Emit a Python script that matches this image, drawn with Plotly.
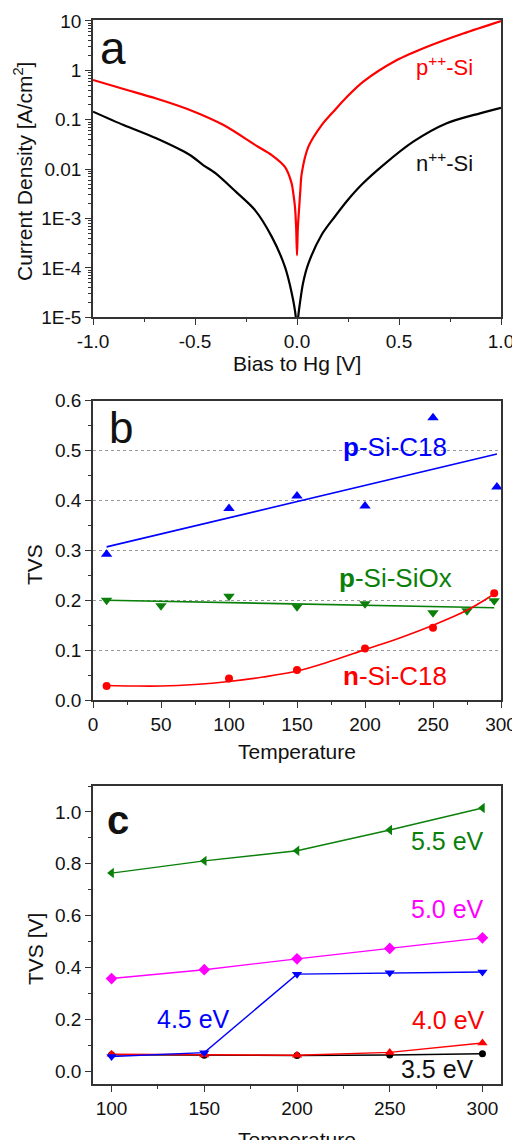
import plotly.graph_objects as go

# ---------------- data ----------------
# panel a : current density vs bias
bias_p = [-1.0, -0.85, -0.69, -0.525, -0.36, -0.2, -0.124, -0.06, -0.026, -0.018, -0.01, -0.004, 0.0,
          0.004, 0.011, 0.016, 0.023, 0.056, 0.121, 0.186, 0.244, 0.325, 0.49, 0.65, 0.815, 1.0]
j_p = [0.64, 0.42, 0.27, 0.158, 0.078, 0.030, 0.0193, 0.0112, 0.0051, 0.0032, 0.00174, 0.00063, 0.00018,
       0.00063, 0.00174, 0.0035, 0.0081, 0.0285, 0.078, 0.158, 0.288, 0.59, 1.62, 3.16, 5.6, 10.0]
bias_n = [-1.0, -0.85, -0.69, -0.525, -0.46, -0.4, -0.3, -0.206, -0.124, -0.059, -0.026, -0.006, 0.0,
          0.006, 0.014, 0.03, 0.056, 0.121, 0.186, 0.25, 0.32, 0.423, 0.57, 0.734, 0.897, 1.0]
j_n = [0.146, 0.078, 0.042, 0.0193, 0.0121, 0.0083, 0.0035, 0.00148, 0.00043, 1.05e-4, 3.1e-5, 1.02e-5, 3e-6,
       1.02e-5, 1.9e-5, 5e-5, 1.23e-4, 4.7e-4, 0.0011, 0.0024, 0.005, 0.0121, 0.036, 0.085, 0.135, 0.174]
a_xticks = [-1.0, -0.5, 0.0, 0.5, 1.0]
a_xticklabels = ["-1.0", "-0.5", "0.0", "0.5", "1.0"]
a_yticks = [10, 1, 0.1, 0.01, 1e-3, 1e-4, 1e-5]
a_yticklabels = ["10", "1", "0.1", "0.01", "1E-3", "1E-4", "1E-5"]

# panel b : TVS vs temperature
t_pc18 = [10, 100, 150, 200, 250, 297]
tvs_pc18 = [0.292, 0.384, 0.409, 0.389, 0.566, 0.427]
fit_t_pc18 = [10, 297]
fit_pc18 = [0.307, 0.493]
t_siox = [10, 50, 100, 150, 200, 250, 275, 295]
tvs_siox = [0.200, 0.189, 0.208, 0.187, 0.193, 0.175, 0.179, 0.199]
fit_t_siox = [10, 295]
fit_siox = [0.200, 0.185]
t_nc18 = [10, 100, 150, 200, 250, 295]
tvs_nc18 = [0.028, 0.043, 0.060, 0.103, 0.145, 0.214]
fit_t_nc18 = [10, 30, 50, 75, 100, 125, 150, 175, 200, 225, 250, 275, 293]
fit_nc18 = [0.029, 0.028, 0.028, 0.031, 0.037, 0.046, 0.058, 0.078, 0.101, 0.124, 0.150, 0.180, 0.209]

# panel c : TVS vs temperature for work functions
t_c = [100, 150, 200, 250, 300]
tvs_55 = [0.764, 0.811, 0.850, 0.930, 1.015]
tvs_50 = [0.357, 0.391, 0.433, 0.473, 0.514]
tvs_45 = [0.056, 0.071, 0.374, 0.379, 0.382]
tvs_40 = [0.065, 0.062, 0.061, 0.072, 0.108]
tvs_35 = [0.063, 0.061, 0.060, 0.062, 0.067]

# ---------------- layout helpers ----------------
OFF = 8                      # page body margin
W, H = 520 - OFF, 1148 - 2 * OFF
L, R = 93 - OFF, 501 - OFF   # plot frame in figure pixels
FONT = "Liberation Sans, Arial, sans-serif"
FC = "#333333"


def px_x(px):   # px given in window (reference) pixels
    return (px - OFF - L) / (R - L)


def px_y(py):
    return 1 - (py - OFF) / H


dom_a = [px_y(317.3), px_y(19.5)]
dom_b = [px_y(700), px_y(400.7)]
dom_c = [px_y(1084), px_y(786)]

base = dict(showline=True, linecolor=FC, linewidth=1.5, mirror=True, showgrid=False, zeroline=False,
            automargin=False, ticklabeloverflow="allow", ticks="outside", ticklen=6, tickwidth=1.3,
            tickcolor=FC, tickfont=dict(family=FONT, size=19, color="#111"))
inner = dict(showline=False, showgrid=False, zeroline=False, showticklabels=False, automargin=False,
             ticks="inside", ticklen=6, tickwidth=1.3, tickcolor=FC)

fig = go.Figure()

# panel a traces
fig.add_trace(go.Scatter(x=bias_n, y=j_n, mode="lines", line=dict(color="black", width=2.2, shape="spline", smoothing=0.8),
                         xaxis="x", yaxis="y", showlegend=False))
fig.add_trace(go.Scatter(x=bias_p, y=j_p, mode="lines", line=dict(color="#ff0000", width=2.2, shape="spline", smoothing=0.8),
                         xaxis="x", yaxis="y", showlegend=False))

# panel b traces
fig.add_trace(go.Scatter(x=fit_t_pc18, y=fit_pc18, mode="lines", line=dict(color="#0000ff", width=1.6),
                         xaxis="x2", yaxis="y2", showlegend=False))
fig.add_trace(go.Scatter(x=t_pc18, y=tvs_pc18, mode="markers",
                         marker=dict(symbol="triangle-up", size=10, color="#0000ff"),
                         xaxis="x2", yaxis="y2", showlegend=False, cliponaxis=False))
fig.add_trace(go.Scatter(x=fit_t_siox, y=fit_siox, mode="lines", line=dict(color="#0a800a", width=1.6),
                         xaxis="x2", yaxis="y2", showlegend=False))
fig.add_trace(go.Scatter(x=t_siox, y=tvs_siox, mode="markers",
                         marker=dict(symbol="triangle-down", size=10, color="#0a800a"),
                         xaxis="x2", yaxis="y2", showlegend=False, cliponaxis=False))
fig.add_trace(go.Scatter(x=fit_t_nc18, y=fit_nc18, mode="lines", line=dict(color="#ff0000", width=1.6, shape="spline"),
                         xaxis="x2", yaxis="y2", showlegend=False))
fig.add_trace(go.Scatter(x=t_nc18, y=tvs_nc18, mode="markers",
                         marker=dict(symbol="circle", size=8, color="#ff0000"),
                         xaxis="x2", yaxis="y2", showlegend=False, cliponaxis=False))

# panel c traces
series_c = [
    (tvs_35, "black", "circle", 7),
    (tvs_40, "#ff0000", "triangle-up", 9),
    (tvs_45, "#0000ff", "triangle-down", 9),
    (tvs_50, "#ff00ff", "diamond", 9),
    (tvs_55, "#0a800a", "triangle-left", 9),
]
for ys, col, sym, sz in series_c:
    fig.add_trace(go.Scatter(x=t_c, y=ys, mode="lines+markers", line=dict(color=col, width=1.4),
                             marker=dict(symbol=sym, size=sz, color=col),
                             xaxis="x3", yaxis="y3", showlegend=False, cliponaxis=False))

fig.update_layout(
    width=W, height=H, plot_bgcolor="white", paper_bgcolor="white",
    margin=dict(l=L, r=W - R, t=0, b=0, autoexpand=False),
    font=dict(family=FONT, color="#111"),
    # panel a
    xaxis=dict(base, domain=[0, 1], anchor="y", range=[-1, 1], tickvals=a_xticks, ticktext=a_xticklabels,
               minor=dict(dtick=0.25, tick0=0, ticks="outside", ticklen=3, tickcolor=FC)),
    yaxis=dict(base, domain=dom_a, anchor="x", type="log", range=[-5, 1.03],
               tickvals=a_yticks, ticktext=a_yticklabels,
               minor=dict(dtick="D1", ticks="outside", ticklen=3, tickcolor=FC)),
    xaxis4=dict(inner, overlaying="x", side="top", anchor="y", range=[-1, 1], tickvals=a_xticks,
                ticklen=4, minor=dict(dtick=0.25, tick0=0, ticks="inside", ticklen=4, tickcolor=FC)),
    yaxis4=dict(inner, overlaying="y", side="right", anchor="x", type="log", range=[-5, 1.03],
                tickvals=a_yticks, minor=dict(dtick="D1", ticks="inside", ticklen=3, tickcolor=FC)),
    # panel b
    xaxis2=dict(base, domain=[0, 1], anchor="y2", range=[0, 300], dtick=50, tick0=0,
                minor=dict(dtick=25, tick0=0, ticks="outside", ticklen=3, tickcolor=FC)),
    yaxis2=dict(base, domain=dom_b, anchor="x2", range=[0, 0.6], dtick=0.1, tick0=0, tickformat=".1f",
                showgrid=True, gridcolor="#999999", gridwidth=1, griddash="dot",
                minor=dict(dtick=0.05, tick0=0, ticks="outside", ticklen=3, tickcolor=FC)),
    xaxis5=dict(inner, overlaying="x2", side="top", anchor="y2", range=[0, 300], dtick=50, tick0=0,
                minor=dict(dtick=25, tick0=0, ticks="inside", ticklen=3, tickcolor=FC)),
    yaxis5=dict(inner, overlaying="y2", side="right", anchor="x2", range=[0, 0.6], dtick=0.1, tick0=0,
                minor=dict(dtick=0.05, tick0=0, ticks="inside", ticklen=3, tickcolor=FC)),
    # panel c
    xaxis3=dict(base, domain=[0, 1], anchor="y3", range=[90, 310], dtick=50, tick0=0,
                minor=dict(dtick=25, tick0=0, ticks="outside", ticklen=3, tickcolor=FC)),
    yaxis3=dict(base, domain=dom_c, anchor="x3", range=[-0.05, 1.1], dtick=0.2, tick0=0, tickformat=".1f",
                minor=dict(dtick=0.1, tick0=0, ticks="outside", ticklen=3, tickcolor=FC)),
    xaxis6=dict(inner, overlaying="x3", side="top", anchor="y3", range=[90, 310], dtick=50, tick0=0,
                minor=dict(dtick=25, tick0=0, ticks="inside", ticklen=3, tickcolor=FC)),
    yaxis6=dict(inner, overlaying="y3", side="right", anchor="x3", range=[-0.05, 1.1], dtick=0.2, tick0=0,
                minor=dict(dtick=0.1, tick0=0, ticks="inside", ticklen=3, tickcolor=FC)),
)


def note(text, px, py, size, color="#111", angle=0):
    fig.add_annotation(text=text, x=px_x(px), y=px_y(py), xref="paper", yref="paper",
                       xanchor="center", yanchor="middle", showarrow=False, textangle=angle,
                       font=dict(family=FONT, size=size, color=color))


# panel letters
note("a", 113, 48, 46)
note("b", 121, 428, 44)
note("<b>c</b>", 118, 820, 40)

# axis titles
note("Current Density [A/cm<sup>2</sup>]", 23, 172, 21, angle=-90)
note("Bias to Hg [V]", 297, 363, 21)
note("TVS", 35, 565, 21, angle=-90)
note("Temperature", 297, 751, 21)
note("TVS [V]", 35, 949, 21, angle=-90)
note("Temperature", 297, 1139, 21)

# curve labels
note("p<sup>++</sup>-Si", 444, 66, 22, "#ff0000")
note("n<sup>++</sup>-Si", 444, 162, 22, "#111")
note("<b>p</b>-Si-C18", 395, 447, 26, "#0000ff")
note("<b>p</b>-Si-SiOx", 395, 578, 26, "#0a800a")
note("<b>n</b>-Si-C18", 395, 676, 26, "#ff0000")
note("5.5 eV", 447, 841, 25, "#0a800a")
note("5.0 eV", 447, 909, 25, "#ff00ff")
note("4.5 eV", 193, 1019, 25, "#0000ff")
note("4.0 eV", 448, 1020, 25, "#ff0000")
note("3.5 eV", 437, 1069, 25, "#111")

fig.write_html("out.html")
